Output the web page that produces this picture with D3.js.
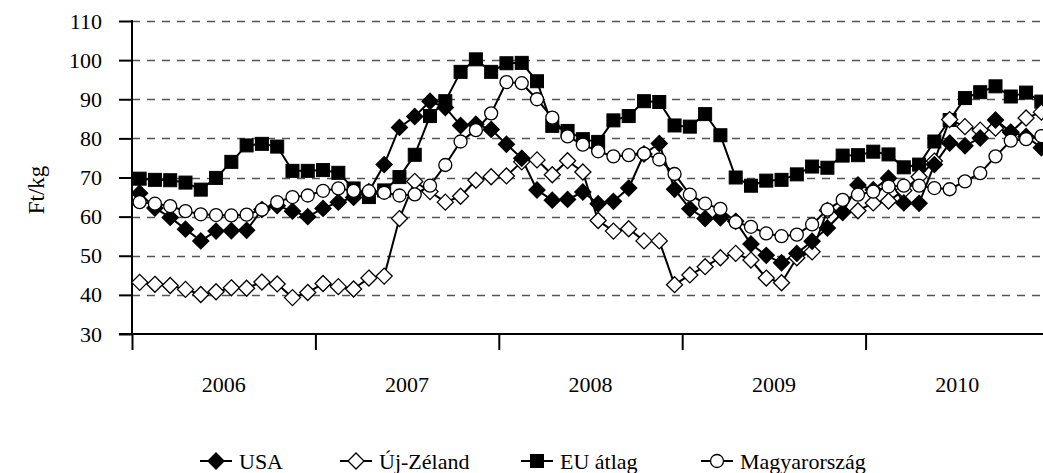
<!DOCTYPE html>
<html>
<head>
  <meta charset="utf-8">
  <title>Ft/kg 2006-2010</title>
  <script src="https://d3js.org/d3.v7.min.js"></script>
  <style>
    body { margin: 0; background: #fff; }
    .grid line { stroke: #555; stroke-dasharray: 8 7; stroke-width: 1.3; }
    .axis path, .axis line { stroke: #000; stroke-width: 2; }
    .series { fill: none; stroke: #000; stroke-width: 2; }
  </style>
</head>
<body>
  <svg id="chart" width="1043" height="473"></svg>

  <script>
    // Years on the x axis, 12 monthly values per year
    const years = ["2006", "2007", "2008", "2009", "2010"];
    const yTicks = [30, 40, 50, 60, 70, 80, 90, 100, 110];

    // Monthly prices, Ft/kg
    const usa = [
      66.0, 62.2, 59.8, 56.8, 53.8, 56.3, 56.4, 56.5, 61.8, 62.8, 61.4, 60.0,
      62.1, 63.7, 64.9, 66.4, 73.3, 82.8, 85.6, 89.5, 87.9, 83.3, 83.6, 82.3,
      78.5, 74.9, 66.8, 64.2, 64.4, 66.3, 63.3, 63.9, 67.3, 76.0, 78.7, 67.0,
      62.0, 59.5, 59.7, 58.8, 53.0, 50.1, 48.2, 50.6, 53.7, 57.1, 61.1, 68.1,
      66.9, 69.8, 63.5, 63.4, 73.3, 78.8, 78.1, 80.1, 84.7, 81.6, 80.5, 77.6
    ];
    const ujZeland = [
      43.2, 42.7, 42.4, 41.4, 40.1, 40.8, 41.8, 41.7, 43.3, 42.8, 39.3, 40.6,
      42.9, 42.1, 41.5, 44.3, 44.8, 59.5, 69.0, 66.4, 63.7, 65.2, 69.3, 70.2,
      70.4, 74.0, 74.5, 70.7, 74.3, 71.4, 59.0, 56.3, 56.9, 53.8, 53.8, 42.6,
      45.1, 47.2, 49.5, 50.6, 48.9, 44.3, 43.1, 49.5, 51.0, 61.6, 61.1, 61.5,
      63.5, 64.0, 66.7, 70.2, 74.2, 84.8, 83.0, 82.1, 82.6, 81.5, 85.2, 86.7
    ];
    const euAtlag = [
      69.7, 69.4, 69.3, 68.7, 66.9, 69.9, 74.0, 78.2, 78.6, 77.9, 71.7, 71.7,
      71.9, 71.2, 67.2, 65.0, 66.7, 70.1, 75.8, 85.7, 89.5, 97.0, 100.2, 97.0,
      99.2, 99.3, 94.6, 83.2, 81.9, 79.8, 79.1, 84.6, 85.7, 89.5, 89.3, 83.3,
      83.0, 86.2, 80.8, 70.0, 67.9, 69.2, 69.4, 70.8, 72.8, 72.5, 75.6, 75.7,
      76.6, 75.9, 72.6, 73.3, 79.2, 84.7, 90.3, 91.8, 93.3, 90.7, 91.7, 89.4
    ];
    const magyarorszag = [
      63.7, 63.3, 62.7, 61.4, 60.6, 60.4, 60.3, 60.5, 61.8, 63.7, 65.0, 65.4,
      66.6, 67.2, 66.6, 66.5, 66.1, 65.4, 65.7, 67.9, 73.2, 79.2, 82.1, 86.4,
      94.4, 94.1, 90.0, 85.3, 80.5, 78.4, 76.7, 75.4, 75.7, 76.1, 74.6, 70.9,
      65.6, 63.3, 62.0, 58.6, 57.4, 55.7, 55.0, 55.4, 58.0, 61.8, 64.3, 65.6,
      66.4, 67.7, 67.9, 67.9, 67.3, 67.0, 69.0, 71.1, 75.4, 79.4, 79.8, 80.6
    ];

    // Legend order and marker types; drawing order puts Magyarország on top
    const series = [
      { name: "USA", values: usa, shape: "diamond", filled: true },
      { name: "Új-Zéland", values: ujZeland, shape: "diamond", filled: false },
      { name: "EU átlag", values: euAtlag, shape: "square", filled: true },
      { name: "Magyarország", values: magyarorszag, shape: "circle", filled: false }
    ];
    const drawOrder = [2, 1, 0, 3];

    const serif = "'Liberation Serif', 'Times New Roman', serif";
    const svg = d3.select("#chart").attr("font-family", serif);
    const plotLeft = 132, plotRight = 1043, plotTop = 21, plotBottom = 334;
    const nMonths = years.length * 12;

    const x = d3.scaleLinear().domain([0, nMonths]).range([plotLeft, 1049]);
    const y = d3.scaleLinear().domain([30, 110]).range([plotBottom, plotTop]);

    // dashed gridlines
    svg.append("g")
      .attr("class", "grid")
      .selectAll("line")
      .data(yTicks.filter((d) => d > 30))
      .enter()
      .append("line")
      .attr("x1", plotLeft)
      .attr("x2", plotRight)
      .attr("y1", (d) => Math.round(y(d)) + 0.5)
      .attr("y2", (d) => Math.round(y(d)) + 0.5);

    // y axis
    const yAxis = svg.append("g")
      .attr("class", "axis")
      .attr("transform", `translate(${plotLeft},0)`)
      .call(d3.axisLeft(y).tickValues(yTicks).tickSize(13).tickPadding(17).tickSizeOuter(0));
    yAxis.attr("font-family", serif).attr("font-size", 22);
    yAxis.selectAll("text")
      .style("font-family", serif)
      .style("font-size", "22px")
      .attr("fill", "#000");
    yAxis.select(".domain").attr("d", `M0,${plotTop - 1}V${plotBottom}`);

    // x axis: year boundaries as ticks, year names centred in each band
    const xAxis = svg.append("g")
      .attr("class", "axis")
      .attr("transform", `translate(0,${plotBottom})`)
      .call(d3.axisBottom(x).tickValues(d3.range(0, nMonths, 12)).tickSize(16).tickFormat(""));
    xAxis.select(".domain").attr("d", `M${plotLeft - 13},0H${plotRight}`);

    svg.append("g")
      .selectAll("text")
      .data(years)
      .enter()
      .append("text")
      .attr("x", (d, i) => x(i * 12 + 6))
      .attr("y", 392)
      .attr("text-anchor", "middle")
      .style("font-size", "22px")
      .text((d) => d);

    // y axis title
    svg.append("text")
      .attr("transform", "translate(44,190) rotate(-90)")
      .attr("text-anchor", "middle")
      .style("font-size", "23px")
      .text("Ft/kg");

    const line = d3.line()
      .x((d, i) => x(i + 0.5))
      .y((d) => y(d));

    function drawMarker(g, s, cx, cy) {
      const fill = s.filled ? "#000" : "#fff";
      if (s.shape === "diamond") {
        const r = 8;
        g.append("path")
          .attr("d", `M${cx},${cy - r}L${cx + r},${cy}L${cx},${cy + r}L${cx - r},${cy}Z`)
          .attr("fill", fill).attr("stroke", "#000").attr("stroke-width", 1.3);
      } else if (s.shape === "square") {
        const h = 6.5;
        g.append("rect")
          .attr("x", cx - h).attr("y", cy - h)
          .attr("width", 2 * h).attr("height", 2 * h)
          .attr("fill", fill).attr("stroke", "#000").attr("stroke-width", 1);
      } else {
        g.append("circle")
          .attr("cx", cx).attr("cy", cy).attr("r", 6.5)
          .attr("fill", fill).attr("stroke", "#000").attr("stroke-width", 1.3);
      }
    }

    const plot = svg.append("g");
    drawOrder.forEach((k) => {
      plot.append("path")
        .attr("class", "series")
        .attr("d", line(series[k].values));
    });
    drawOrder.forEach((k) => {
      const g = plot.append("g");
      series[k].values.forEach((v, i) => drawMarker(g, series[k], x(i + 0.5), y(v)));
    });

    // legend
    const legendX = [200, 340, 521, 701];
    const legendY = 461;
    series.forEach((s, i) => {
      const g = svg.append("g");
      g.append("line")
        .attr("x1", legendX[i]).attr("x2", legendX[i] + 32)
        .attr("y1", legendY).attr("y2", legendY)
        .attr("stroke", "#000").attr("stroke-width", 2);
      drawMarker(g, s, legendX[i] + 16, legendY);
      g.append("text")
        .attr("x", legendX[i] + 39)
        .attr("y", legendY + 8)
        .style("font-size", "22px")
        .text(s.name);
    });
  </script>
</body>
</html>
